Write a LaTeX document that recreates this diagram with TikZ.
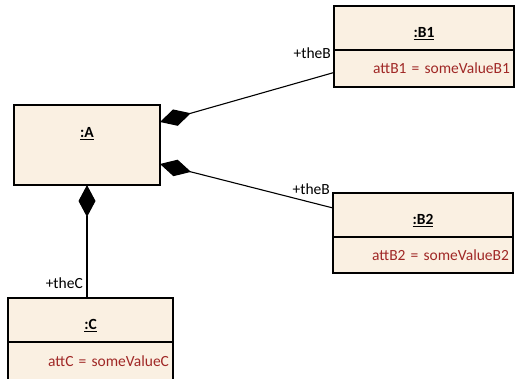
\documentclass[tikz,border=0pt]{standalone}
\usepackage{fontspec}
\setmainfont{Carlito}
\usetikzlibrary{positioning, calc}
\usetikzlibrary{arrows.meta}
\definecolor{objfill}{HTML}{FAF0E2}
\definecolor{attred}{HTML}{A02826}
\tikzset{comp/.style={{Diamond[length=32pt,width=17pt]}-, line width=1.1pt}}

\begin{document}
\begin{tikzpicture}[
    x = 1pt, y = -1pt,
    font = \fontsize{15.5}{18}\selectfont,
    objhead/.style = {draw, line width=1.2pt, fill=objfill, minimum height=44pt,
        inner sep=0pt, outer sep=0pt, anchor=north west},
    objattr/.style = {draw, line width=1.2pt, fill=objfill,
        inner xsep=4pt, inner ysep=0pt, outer sep=0pt, align=right, text=attred},
    objname/.style = {inner sep=0pt, font=\fontsize{15.5}{18}\selectfont\bfseries},
    role/.style = {fill=white, inner sep=1pt, anchor=base east}
  ]
  \useasboundingbox (0,0) rectangle (516,379);

  % object A
  \node[objhead, minimum width=146pt, minimum height=80pt] (A) at (14,105) {};
  \node[objname, below=22pt of A.north] (Aname) {\underline{:A}};

  % objects with one attribute
  \foreach \n/\x/\y/\w/\h/\txt in {B1/334/6/180/37/{attB1 = someValueB1},
                                   B2/333/193/180/36/{attB2 = someValueB2},
                                   C/8/298/165/39/{attC = someValueC}}
  {
    \node[objhead, minimum width=\w pt] (\n) at (\x,\y) {};
    \node[objname, below=21pt of \n.north] (\n name) {\underline{:\n}};
    \node[objattr, text width=\w pt-8pt, minimum height=\h pt,
          below=0pt of \n.south] (\n attr) {\txt};
  }

  % compositions
  \draw[comp] ($(A.north east)+(0,17)$) -- ($(B1attr.west)+(0,4)$);
  \draw[comp] ($(A.south east)+(0,-21)$) -- ($(B2.north west)+(0,15)$);
  \draw[comp] (A.south) -- (A.south |- C.north);

  % role names
  \node[role] (roleB1) at ($(B1.south west)+(-2,9)$) {+theB};
  \node[role] (roleB2) at ($(B2.north west)+(-2,2)$) {+theB};
  \node[role] (roleC) at ($(A.south |- C.north)+(-3,-10)$) {+theC};
\end{tikzpicture}
\end{document}
